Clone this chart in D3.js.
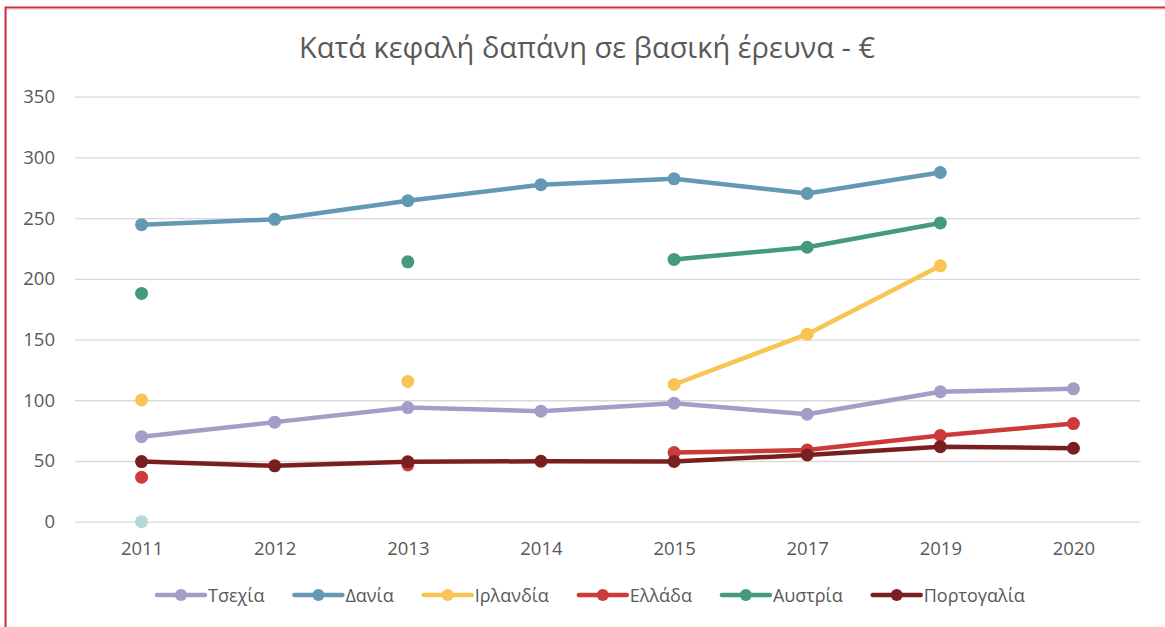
<!DOCTYPE html>
<html>
<head>
<meta charset="utf-8">
<script src="https://cdn.jsdelivr.net/npm/d3@7"></script>
<style>
  body { margin: 0; background: #fff; }
  svg { display: block; font-family: "Open Sans", "Noto Sans", sans-serif; }
</style>
</head>
<body>
<svg id="chart" width="1165" height="627"></svg>
<script>
// categories (x axis) - note that the years are not evenly spaced, excel treats them as labels
const years = ["2011", "2012", "2013", "2014", "2015", "2017", "2019", "2020"]
const yTicks = [0, 50, 100, 150, 200, 250, 300, 350]

// series values, null = no data (gap in line)
const tsechia    = [70, 82, 94, 91, 97.6, 88.5, 107, 109.4]
const dania      = [244.6, 249, 264.3, 277.5, 282.4, 270.3, 287.6, null]
const irlandia   = [100.3, null, 115.5, null, 113, 154.4, 210.7, null]
const ellada     = [36.6, null, 46.7, null, 56.9, 59, 71, 80.8]
const afstria    = [188, null, 214, null, 216, 226, 246, null]
const portogalia = [49.5, 46, 49.3, 49.8, 49.6, 55, 61.8, 60.5]
const unnamed    = [0, null, null, null, null, null, null, null] // stray point at 2011, not in legend

const seriesNames  = ["", "Τσεχία", "Δανία", "Ιρλανδία", "Ελλάδα", "Αυστρία", "Πορτογαλία"]
const seriesValues = [unnamed, tsechia, dania, irlandia, ellada, afstria, portogalia]
const seriesColors = ["#b7d8db", "#a59cc7", "#6399b4", "#f8c555", "#cd3a3a", "#459a7b", "#7a1f1f"]

const svg = d3.select("#chart")

// outer frame of the pasted image
svg.append("rect")
    .attr("x", 6.5).attr("y", 9.5)
    .attr("width", 1170).attr("height", 700)
    .attr("fill", "none").attr("stroke", "#e3e3e3").attr("stroke-width", 1)
svg.append("rect")
    .attr("x", 5.5).attr("y", 7.5)
    .attr("width", 1170).attr("height", 700)
    .attr("fill", "none").attr("stroke", "#d0313a").attr("stroke-width", 2)

const x = d3.scalePoint()
    .domain(years)
    .range([75, 1140])
    .padding(0.5)

const y = d3.scaleLinear()
    .domain([0, 350])
    .range([521.7, 96.7])

// title
svg.append("text")
    .attr("x", 587).attr("y", 58)
    .attr("text-anchor", "middle")
    .style("font-size", "29px")
    .style("fill", "#595959")
    .text("Κατά κεφαλή δαπάνη σε βασική έρευνα - €")

// gridlines + y labels
const yAxis = d3.axisLeft(y)
    .tickValues(yTicks)
    .tickSize(-(1140 - 75))
    .tickPadding(20)

const gy = svg.append("g")
    .attr("transform", "translate(75,0)")
    .call(yAxis)
gy.select(".domain").remove()
gy.selectAll(".tick line").attr("stroke", "#d9d9d9").attr("stroke-width", 1.3)
gy.selectAll(".tick text")
    .style("font-size", "18.5px")
    .style("fill", "#595959")
    .style("font-family", "\"Open Sans\", sans-serif")

// x labels
const xAxis = d3.axisBottom(x).tickSize(0).tickPadding(20)
const gx = svg.append("g")
    .attr("transform", "translate(0,521.7)")
    .call(xAxis)
gx.select(".domain").remove()
gx.selectAll(".tick text")
    .style("font-size", "18.5px")
    .style("fill", "#595959")
    .style("font-family", "\"Open Sans\", sans-serif")

// lines
const line = d3.line()
    .defined(d => d != null)
    .x((d, i) => x(years[i]))
    .y(d => y(d))

seriesValues.forEach((vals, s) => {
    const g = svg.append("g")
    g.append("path")
        .datum(vals)
        .attr("d", line)
        .attr("fill", "none")
        .attr("stroke", seriesColors[s])
        .attr("stroke-width", 4.5)
        .attr("stroke-linejoin", "round")
        .attr("stroke-linecap", "round")
    g.selectAll("circle")
        .data(vals.map((v, i) => ({ v, i })).filter(d => d.v != null))
        .join("circle")
        .attr("cx", d => x(years[d.i]))
        .attr("cy", d => y(d.v))
        .attr("r", 6.5)
        .attr("fill", seriesColors[s])
})

// legend, skip the unnamed one
const legend = svg.append("g").attr("transform", "translate(0,595)")
let lx = 157
seriesNames.forEach((name, s) => {
    if (!name) return
    const item = legend.append("g").attr("transform", `translate(${lx},0)`)
    item.append("line")
        .attr("x1", 0).attr("x2", 48)
        .attr("stroke", seriesColors[s])
        .attr("stroke-width", 4.5)
        .attr("stroke-linecap", "round")
    item.append("circle")
        .attr("cx", 24).attr("r", 6)
        .attr("fill", seriesColors[s])
    const t = item.append("text")
        .attr("x", 51).attr("y", 6.5)
        .style("font-size", "18px")
        .style("fill", "#595959")
        .text(name)
    lx += 51 + t.node().getComputedTextLength() + 30
})
</script>
</body>
</html>
